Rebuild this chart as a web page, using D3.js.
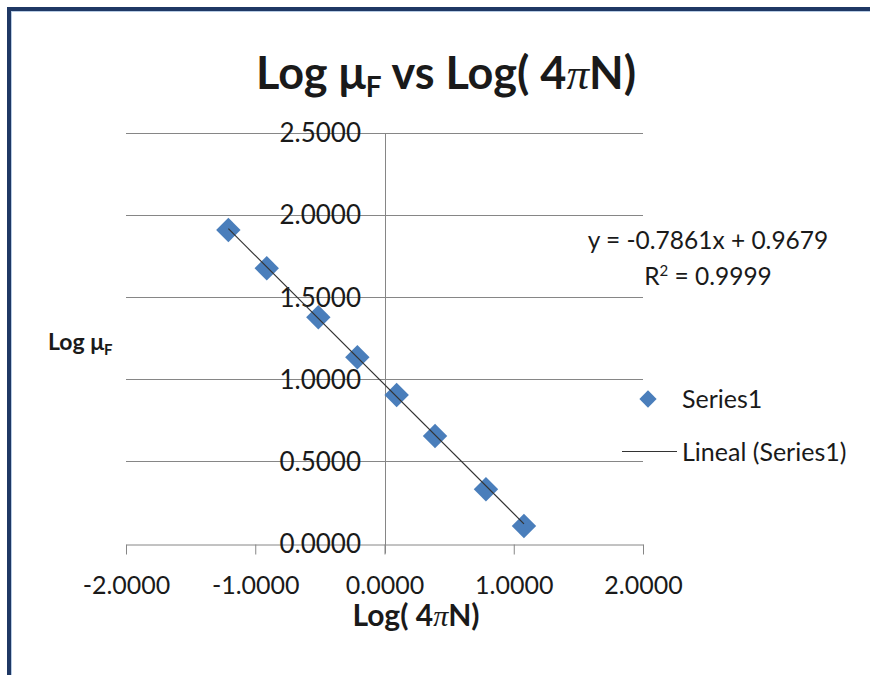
<!DOCTYPE html>
<html lang="en">
<head>
<meta charset="UTF-8">
<title>Log muF vs Log(4 pi N)</title>
<script src="https://cdn.jsdelivr.net/npm/d3@7"></script>
<style>
  body { margin: 0; background: #fff; }
  svg { display: block; }
  text { font-family: Lato, "Open Sans", sans-serif; fill: #1a1a1a; }
</style>
</head>
<body>
<script>
// data
var logN  = [-1.208, -0.911, -0.512, -0.210, 0.094, 0.391, 0.785, 1.079];
var logMu = [1.909, 1.676, 1.378, 1.134, 0.904, 0.655, 0.330, 0.107];
var xTicks = [-2, -1, 0, 1, 2];
var yTicks = [0, 0.5, 1, 1.5, 2, 2.5];
var slope = -0.7861, intercept = 0.9679, r2 = 0.9999;
var seriesName = "Series1";
var trendName = "Lineal (Series1)";

var width = 870, height = 675;
var svg = d3.select("body").append("svg").attr("width", width).attr("height", height);

// frame
svg.append("rect").attr("x", 9).attr("y", 9).attr("width", 900).attr("height", 700)
  .attr("fill", "none").attr("stroke", "#1f3864").attr("stroke-width", 4);
svg.append("rect").attr("x", 11.5).attr("y", 11.5).attr("width", 900).attr("height", 700)
  .attr("fill", "none").attr("stroke", "#b8cce4").attr("stroke-width", 1);

var x = d3.scaleLinear().domain([-2, 2]).range([126, 643]);
var y = d3.scaleLinear().domain([0, 2.5]).range([543.5, 133]);
// excel style: plain hyphen for negatives
var fmt = function(d){ return d.toFixed(4); };
var grid = "#868686";

// horizontal gridlines
svg.selectAll(".grid").data(yTicks.slice(1)).enter().append("line")
  .attr("x1", x(-2)).attr("x2", x(2))
  .attr("y1", function(d){ return Math.round(y(d)) + 0.5; })
  .attr("y2", function(d){ return Math.round(y(d)) + 0.5; })
  .attr("stroke", grid).attr("stroke-width", 1);

// x axis (at y = 0) with ticks pointing down
var xAxis = svg.append("g").attr("transform", "translate(0," + (Math.round(y(0)) + 0.5) + ")")
  .call(d3.axisBottom(x).tickValues(xTicks).tickSize(10).tickSizeOuter(0).tickFormat(fmt));
xAxis.select(".domain").attr("stroke", grid);
xAxis.selectAll(".tick line").attr("stroke", grid);
xAxis.selectAll(".tick text").attr("font-size", 25).attr("font-family", null)
  .attr("fill", "#1a1a1a").attr("y", 0).attr("dy", 49);

// y axis line at x = 0
var x0 = Math.round(x(0)) + 0.5;
svg.append("line").attr("x1", x0).attr("x2", x0).attr("y1", y(2.5)).attr("y2", y(0) + 10)
  .attr("stroke", grid).attr("stroke-width", 1);

svg.selectAll(".ylab").data(yTicks).enter().append("text")
  .attr("x", 361).attr("y", function(d){ return y(d); }).attr("dy", "0.36em")
  .attr("text-anchor", "end").attr("font-size", 26)
  .text(function(d){ return fmt(d); });

// markers
var pts = logN.map(function(v, i){ return [v, logMu[i]]; });
var diamond = d3.symbol().type(d3.symbolDiamond2).size(380);
svg.selectAll(".pt").data(pts).enter().append("path")
  .attr("d", diamond)
  .attr("transform", function(d){ return "translate(" + x(d[0]) + "," + y(d[1]) + ")"; })
  .attr("fill", "#4a7ebb");

// linear trendline
var xs = d3.extent(logN);
svg.append("line")
  .attr("x1", x(xs[0])).attr("y1", y(slope * xs[0] + intercept))
  .attr("x2", x(xs[1])).attr("y2", y(slope * xs[1] + intercept))
  .attr("stroke", "#333").attr("stroke-width", 1.2);

// trendline label
svg.append("text").attr("x", 708).attr("y", 249).attr("text-anchor", "middle").attr("font-size", 24.5)
  .text("y = " + slope.toFixed(4) + "x + " + intercept.toFixed(4));
var r2t = svg.append("text").attr("x", 708).attr("y", 285).attr("text-anchor", "middle").attr("font-size", 24.5);
r2t.append("tspan").text("R");
r2t.append("tspan").attr("font-size", 15).attr("dy", -9).text("2");
r2t.append("tspan").attr("dy", 9).text(" = " + r2.toFixed(4));

// title
var title = svg.append("text").attr("x", 446).attr("y", 89).attr("text-anchor", "middle")
  .attr("font-size", 45).attr("font-weight", "bold");
title.append("tspan").text("Log \u03bc");
title.append("tspan").attr("font-size", 28).attr("dy", 8).text("F");
title.append("tspan").attr("dy", -8).text(" vs Log( 4");
title.append("tspan").attr("font-style", "italic").attr("font-family", "Liberation Serif").attr("font-weight", "normal").text("\u03c0");
title.append("tspan").text("N)");

// y axis title
var yt = svg.append("text").attr("x", 48).attr("y", 350).attr("font-size", 23).attr("font-weight", "bold");
yt.append("tspan").text("Log \u03bc");
yt.append("tspan").attr("font-size", 15).attr("dy", 5).text("F");

// x axis title
var xt = svg.append("text").attr("x", 416).attr("y", 626).attr("text-anchor", "middle")
  .attr("font-size", 30).attr("font-weight", "bold");
xt.append("tspan").text("Log( 4");
xt.append("tspan").attr("font-style", "italic").attr("font-family", "Liberation Serif").attr("font-weight", "normal").text("\u03c0");
xt.append("tspan").text("N)");

// legend
svg.append("path").attr("d", d3.symbol().type(d3.symbolDiamond2).size(190))
  .attr("transform", "translate(648,399)").attr("fill", "#4a7ebb");
svg.append("text").attr("x", 682).attr("y", 408).attr("font-size", 25).text(seriesName);
svg.append("line").attr("x1", 622).attr("x2", 677).attr("y1", 451.5).attr("y2", 451.5)
  .attr("stroke", "#333").attr("stroke-width", 1.2);
svg.append("text").attr("x", 682).attr("y", 461).attr("font-size", 25).text(trendName);
</script>
</body>
</html>
